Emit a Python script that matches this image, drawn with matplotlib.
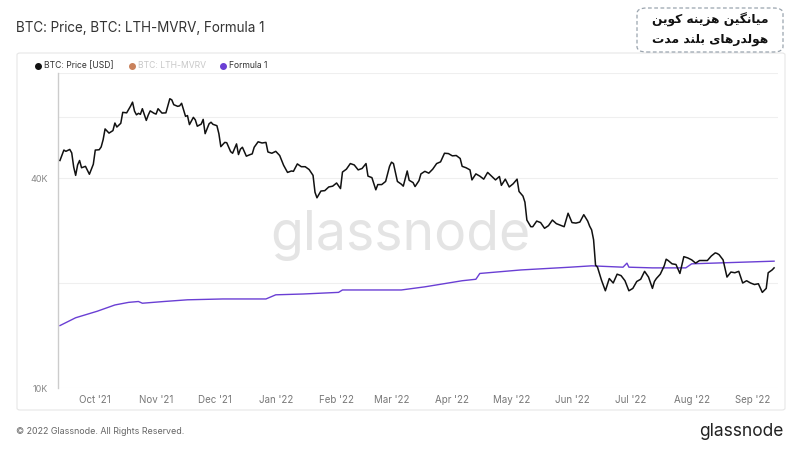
import matplotlib
matplotlib.use('Agg')
import matplotlib.pyplot as plt
import pandas as pd
from matplotlib.lines import Line2D
from matplotlib.patches import FancyBboxPatch
from matplotlib.ticker import FixedLocator, NullFormatter

# BTC price (USD, thousands)
price_dates = [
    '2021-09-13', '2021-09-15', '2021-09-16', '2021-09-18', '2021-09-19', '2021-09-20', '2021-09-21',
    '2021-09-22', '2021-09-23', '2021-09-24', '2021-09-26', '2021-09-28', '2021-09-30', '2021-10-01',
    '2021-10-03', '2021-10-04', '2021-10-05', '2021-10-06', '2021-10-08', '2021-10-10', '2021-10-11',
    '2021-10-12', '2021-10-14', '2021-10-15', '2021-10-17', '2021-10-19', '2021-10-20', '2021-10-21',
    '2021-10-22', '2021-10-23', '2021-10-24', '2021-10-25', '2021-10-27', '2021-10-28', '2021-10-29',
    '2021-10-31', '2021-11-01', '2021-11-02', '2021-11-04', '2021-11-06', '2021-11-08', '2021-11-09',
    '2021-11-10', '2021-11-12', '2021-11-13', '2021-11-14', '2021-11-16', '2021-11-17', '2021-11-18',
    '2021-11-20', '2021-11-21', '2021-11-22', '2021-11-24', '2021-11-25', '2021-11-26', '2021-11-28',
    '2021-11-29', '2021-11-30', '2021-12-02', '2021-12-03', '2021-12-04', '2021-12-06', '2021-12-07',
    '2021-12-09', '2021-12-10', '2021-12-12', '2021-12-13', '2021-12-14', '2021-12-15', '2021-12-17',
    '2021-12-19', '2021-12-20', '2021-12-21', '2021-12-23', '2021-12-25', '2021-12-27', '2021-12-28',
    '2021-12-30', '2022-01-01', '2022-01-03', '2022-01-05', '2022-01-07', '2022-01-09', '2022-01-10',
    '2022-01-12', '2022-01-14', '2022-01-16', '2022-01-18', '2022-01-20', '2022-01-21', '2022-01-22',
    '2022-01-24', '2022-01-26', '2022-01-28', '2022-01-30', '2022-02-01', '2022-02-03', '2022-02-04',
    '2022-02-06', '2022-02-08', '2022-02-10', '2022-02-12', '2022-02-14', '2022-02-16', '2022-02-17',
    '2022-02-19', '2022-02-21', '2022-02-22', '2022-02-24', '2022-02-26', '2022-02-28', '2022-03-01',
    '2022-03-02', '2022-03-04', '2022-03-06', '2022-03-07', '2022-03-09', '2022-03-10', '2022-03-12',
    '2022-03-13', '2022-03-15', '2022-03-16', '2022-03-18', '2022-03-20', '2022-03-22', '2022-03-24',
    '2022-03-26', '2022-03-28', '2022-03-30', '2022-04-01', '2022-04-03', '2022-04-05', '2022-04-06',
    '2022-04-08', '2022-04-10', '2022-04-11', '2022-04-13', '2022-04-15', '2022-04-17', '2022-04-19',
    '2022-04-21', '2022-04-23', '2022-04-25', '2022-04-26', '2022-04-28', '2022-04-30', '2022-05-02',
    '2022-05-04', '2022-05-05', '2022-05-07', '2022-05-08', '2022-05-09', '2022-05-11', '2022-05-12',
    '2022-05-14', '2022-05-16', '2022-05-18', '2022-05-20', '2022-05-22', '2022-05-24', '2022-05-26',
    '2022-05-28', '2022-05-30', '2022-06-01', '2022-06-03', '2022-06-05', '2022-06-07', '2022-06-09',
    '2022-06-10', '2022-06-11', '2022-06-12', '2022-06-13', '2022-06-14', '2022-06-16', '2022-06-18',
    '2022-06-20', '2022-06-22', '2022-06-24', '2022-06-26', '2022-06-28', '2022-06-30', '2022-07-02',
    '2022-07-04', '2022-07-06', '2022-07-08', '2022-07-10', '2022-07-12', '2022-07-13', '2022-07-14',
    '2022-07-16', '2022-07-18', '2022-07-19', '2022-07-20', '2022-07-22', '2022-07-24', '2022-07-26',
    '2022-07-28', '2022-07-30', '2022-08-01', '2022-08-03', '2022-08-05', '2022-08-07', '2022-08-09',
    '2022-08-11', '2022-08-13', '2022-08-14', '2022-08-15', '2022-08-17', '2022-08-19', '2022-08-21',
    '2022-08-23', '2022-08-25', '2022-08-27', '2022-08-29', '2022-08-31', '2022-09-02', '2022-09-04',
    '2022-09-06', '2022-09-08', '2022-09-09', '2022-09-10', '2022-09-11', '2022-09-12',
]
price_k = [
    44.9, 48.1, 47.7, 48.3, 47.2, 43.0, 40.7,
    43.6, 44.9, 42.8, 43.2, 41.0, 43.8, 48.1,
    48.2, 49.1, 51.5, 55.3, 53.8, 54.7, 57.5,
    56.0, 57.4, 61.7, 61.5, 64.3, 66.0, 62.2,
    60.7, 61.3, 60.9, 63.2, 58.5, 60.6, 62.3,
    61.3, 61.0, 63.2, 61.4, 61.5, 67.5, 67.0,
    64.9, 64.2, 64.4, 65.5, 60.1, 60.4, 56.9,
    59.7, 58.7, 56.3, 57.1, 58.9, 53.6, 57.2,
    57.8, 57.0, 56.5, 53.6, 49.2, 50.6, 50.5,
    47.6, 47.1, 50.1, 46.7, 48.4, 49.0, 46.2,
    46.7, 46.9, 49.0, 50.8, 50.4, 50.6, 47.5,
    47.1, 47.7, 46.4, 43.5, 41.5, 41.9, 41.8,
    43.9, 43.1, 43.1, 42.3, 40.7, 36.4, 35.1,
    36.7, 36.8, 37.7, 37.9, 38.7, 37.3, 41.6,
    42.4, 44.0, 43.6, 42.2, 42.6, 44.0, 40.5,
    40.1, 37.0, 38.3, 38.3, 39.1, 43.2, 44.4,
    44.0, 39.1, 38.4, 37.9, 41.9, 39.4, 38.8,
    37.8, 39.3, 41.1, 41.8, 41.3, 42.4, 44.0,
    44.5, 47.1, 47.0, 46.3, 46.4, 45.5, 43.2,
    42.8, 42.2, 39.5, 41.1, 40.5, 39.7, 41.5,
    40.5, 39.5, 40.4, 38.1, 39.7, 37.7, 38.5,
    39.7, 36.6, 35.5, 34.1, 30.3, 29.0, 29.0,
    30.1, 29.8, 28.7, 29.2, 30.3, 29.6, 29.3,
    29.0, 31.7, 29.8, 29.7, 29.9, 31.4, 30.1,
    29.1, 28.4, 26.6, 22.5, 22.2, 20.4, 19.0,
    20.6, 20.0, 21.2, 21.0, 20.3, 19.0, 19.3,
    20.2, 20.5, 21.6, 20.8, 19.3, 20.2, 20.6,
    21.2, 22.4, 23.4, 23.2, 22.7, 22.6, 21.3,
    23.8, 23.6, 23.3, 22.8, 23.2, 23.2, 23.2,
    23.9, 24.4, 24.3, 24.1, 23.3, 20.8, 21.5,
    21.4, 21.6, 20.0, 20.3, 20.0, 19.8, 19.9,
    18.8, 19.3, 21.4, 21.6, 21.8, 22.1,
]

# Formula 1 (thousands)
formula_dates = [
    '2021-09-13', '2021-09-21', '2021-10-02', '2021-10-11', '2021-10-18', '2021-10-23', '2021-10-25',
    '2021-11-05', '2021-11-17', '2021-12-05', '2021-12-27', '2022-01-01', '2022-01-15', '2022-02-02',
    '2022-02-04', '2022-02-27', '2022-03-06', '2022-03-18', '2022-04-06', '2022-04-13', '2022-04-15',
    '2022-05-06', '2022-05-31', '2022-06-11', '2022-06-27', '2022-06-29', '2022-06-30', '2022-07-12',
    '2022-07-29', '2022-08-01', '2022-09-12',
]
formula_k = [
    15.1, 15.9, 16.6, 17.3, 17.6, 17.7, 17.5,
    17.7, 17.9, 18.0, 18.0, 18.5, 18.6, 18.8,
    19.1, 19.1, 19.1, 19.5, 20.3, 20.5, 21.3,
    21.8, 22.2, 22.4, 22.2, 22.8, 22.2, 22.1,
    22.1, 22.7, 23.1,
]

tick_months = ['2021-10-01', '2021-11-01', '2021-12-01', '2022-01-01', '2022-02-01', '2022-03-01',
               '2022-04-01', '2022-05-01', '2022-06-01', '2022-07-01', '2022-08-01', '2022-09-01']
tick_labels = ["Oct '21", "Nov '21", "Dec '21", "Jan '22", "Feb '22", "Mar '22",
               "Apr '22", "May '22", "Jun '22", "Jul '22", "Aug '22", "Sep '22"]
y_label_vals = [10000, 40000]
y_label_text = ['10K', '40K']
y_grid_extra = [20000, 60000, 80000]

legend_names = ['BTC: Price [USD]', 'BTC: LTH-MVRV', 'Formula 1']
legend_colors = ['#111111', '#c9825c', '#6a3fd4']

note_lines = ['میانگین هزینه کوین', 'هولدرهای بلند مدت']

# Persian letters -> presentation forms (isolated, final, initial, medial)
FORMS = {
    'ا': ('\uFE8D', '\uFE8E', None, None),
    'ب': ('\uFE8F', '\uFE90', '\uFE91', '\uFE92'),
    'ت': ('\uFE95', '\uFE96', '\uFE97', '\uFE98'),
    'د': ('\uFEA9', '\uFEAA', None, None),
    'ر': ('\uFEAD', '\uFEAE', None, None),
    'ز': ('\uFEAF', '\uFEB0', None, None),
    'ک': ('\uFB8E', '\uFB8F', '\uFB90', '\uFB91'),
    'گ': ('\uFB92', '\uFB93', '\uFB94', '\uFB95'),
    'ل': ('\uFEDD', '\uFEDE', '\uFEDF', '\uFEE0'),
    'م': ('\uFEE1', '\uFEE2', '\uFEE3', '\uFEE4'),
    'ن': ('\uFEE5', '\uFEE6', '\uFEE7', '\uFEE8'),
    'ه': ('\uFEE9', '\uFEEA', '\uFEEB', '\uFEEC'),
    'و': ('\uFEED', '\uFEEE', None, None),
    'ی': ('\uFBFC', '\uFBFD', '\uFBFE', '\uFBFF'),
}


def shape_rtl(text):
    out = []
    for i, ch in enumerate(text):
        if ch not in FORMS:
            out.append(ch)
            continue
        prev = text[i - 1] if i > 0 else ''
        nxt = text[i + 1] if i + 1 < len(text) else ''
        join_prev = prev in FORMS and FORMS[prev][2] is not None
        join_next = FORMS[ch][2] is not None and nxt in FORMS
        f = FORMS[ch]
        if join_prev and join_next:
            out.append(f[3])
        elif join_next:
            out.append(f[2])
        elif join_prev:
            out.append(f[1])
        else:
            out.append(f[0])
    return ''.join(reversed(out))


plt.rcParams['font.family'] = ['Inter', 'DejaVu Sans']

W, H = 800, 450
fig = plt.figure(figsize=(8, 4.5), dpi=100)
fig.patch.set_facecolor('white')


def fx(px):
    return px / W


def fy(py):
    return 1 - py / H


# chart panel border
fig.patches.append(FancyBboxPatch((fx(17), fy(410)), fx(768), 357 / H, boxstyle='round,pad=0,rounding_size=0.004',
                                  transform=fig.transFigure, facecolor='none', edgecolor='#e6e6e6', lw=0.8,
                                  zorder=-1))

ax = fig.add_axes([fx(58), fy(388), fx(720), 315 / H])
ax.set_facecolor('none')

pdates = pd.to_datetime(price_dates)
fdates = pd.to_datetime(formula_dates)
ax.plot(pdates, [v * 1000 for v in price_k], color='#111111', lw=1.1, zorder=3)
ax.plot(fdates, [v * 1000 for v in formula_k], color='#6a3fd4', lw=1.0, zorder=2)

ax.set_yscale('log')
ax.set_ylim(10000, 80000)
ax.set_xlim(pd.Timestamp('2021-09-12'), pd.Timestamp('2022-09-14'))

ax.yaxis.set_major_locator(FixedLocator(y_label_vals))
ax.set_yticklabels(y_label_text)
ax.yaxis.set_minor_locator(FixedLocator(y_grid_extra))
ax.yaxis.set_minor_formatter(NullFormatter())
ax.grid(True, which='both', axis='y', color='#efefef', lw=0.8, zorder=0)
ax.tick_params(axis='y', which='both', length=0, labelsize=6.5, labelcolor='#888888', pad=7)

ax.set_xticks(pd.to_datetime(tick_months))
ax.set_xticklabels(tick_labels)
ax.tick_params(axis='x', length=0, labelsize=7, labelcolor='#777777', pad=5)

for s in ['top', 'right', 'bottom']:
    ax.spines[s].set_visible(False)
ax.spines['left'].set_color('#cccccc')
ax.spines['left'].set_linewidth(1.0)

# watermark
ax.text(0.5, fy(250), 'glassnode', fontsize=38.5, color='#e4e4e4', ha='center', va='baseline', zorder=1,
        transform=fig.transFigure)

# title
fig.text(fx(16), fy(28), 'BTC: Price, BTC: LTH-MVRV, Formula 1', fontsize=9.7, color='#333333', va='center')

# legend
leg_dot_x = [38, 132, 223]
leg_text_colors = ['#333333', '#c8c8c8', '#333333']
for dx, name, col, tcol in zip(leg_dot_x, legend_names, legend_colors, leg_text_colors):
    fig.add_artist(Line2D([fx(dx)], [fy(66)], marker='o', markersize=4.0, color=col, lw=0,
                          transform=fig.transFigure))
    fig.text(fx(dx + 6), fy(66), name, fontsize=6.2, color=tcol, va='center')

# footer
fig.text(fx(16), fy(431), '© 2022 Glassnode. All Rights Reserved.', fontsize=6.4, color='#666666', va='center')
fig.text(fx(784), fy(431), 'glassnode', fontsize=12.5, color='#222222', va='center', ha='right')

# note box
fig.patches.append(FancyBboxPatch((fx(637), fy(52)), fx(146), 44 / H,
                                  boxstyle='round,pad=0,rounding_size=0.012',
                                  transform=fig.transFigure, facecolor='white', edgecolor='#9aa4ae',
                                  lw=0.9, linestyle=(0, (3, 2))))
fig.text(fx(710), fy(20), shape_rtl(note_lines[0]), fontsize=8.8, fontweight='bold', color='#111111',
         ha='center', va='center', family=['DejaVu Sans'])
fig.text(fx(710), fy(40), shape_rtl(note_lines[1]), fontsize=8.8, fontweight='bold', color='#111111',
         ha='center', va='center', family=['DejaVu Sans'])

fig.savefig('out.png', dpi=100, facecolor='white')
